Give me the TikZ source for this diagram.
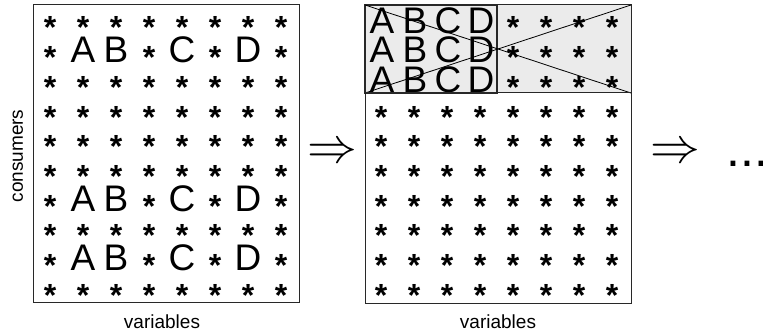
\documentclass[tikz,border=0pt]{standalone}
\usepackage{graphicx}
\usepackage{fontspec}
\setmainfont{Liberation Sans}
\definecolor{shadegray}{RGB}{235,235,235}
\definecolor{frame}{RGB}{40,40,40}
\begin{document}
\begin{tikzpicture}[x=1pt,y=-1pt,
  astnode/.style={font=\fontsize{32}{32}\selectfont\bfseries, anchor=base, inner sep=0pt},
  letnode/.style={font=\fontsize{37}{37}\selectfont, anchor=base, inner sep=0pt},
  lblnode/.style={font=\fontsize{19}{19}\selectfont, anchor=base, inner sep=0pt},
  bignode/.style={font=\fontsize{24}{24}\selectfont, inner sep=0pt},
  boxline/.style={draw=frame, line width=1pt},
  crossline/.style={draw=black, line width=0.8pt}]
\useasboundingbox (0,0) rectangle (763,331);
% ---------- first matrix ----------
\node[boxline, minimum width=266pt, minimum height=297pt, inner sep=0pt] (m1) at (166,153.5) {};
\foreach \r in {0,2,3,4,5,7,9}{
  \foreach \c in {0,...,7}{
    \node[astnode] (a-\r-\c) at ({50+33*\c},{20+29.7*\r+19}) {*};
  }
}
\foreach \r in {1,6,8}{
  \foreach \c in {0,3,5,7}{
    \node[astnode] (a-\r-\c) at ({50+33*\c},{20+29.7*\r+19}) {*};
  }
  \node[letnode] (a-\r-1) at (83,{20+29.7*\r+13.3}) {A};
  \node[letnode] (a-\r-2) at (116,{20+29.7*\r+13.3}) {B};
  \node[letnode] (a-\r-4) at (182,{20+29.7*\r+13.3}) {C};
  \node[letnode] (a-\r-6) at (248,{20+29.7*\r+13.3}) {D};
}
\node[lblnode] (v1) at (162,328) {variables};
\node[lblnode, rotate=90] (cons) at (23,156) {consumers};
% ---------- arrow ----------
\node[bignode] (arr1) at (332,153.5) {\scalebox{2}{$\Rightarrow$}};
% ---------- second matrix ----------
\fill[shadegray] (365,5) rectangle (631,93);
\node[boxline, minimum width=266pt, minimum height=298pt, inner sep=0pt] (m2) at (498,154) {};
\coordinate (g-tl) at (365,5);
\coordinate (g-tr) at (631,5);
\coordinate (g-bl) at (365,93);
\coordinate (g-br) at (631,93);
\foreach \r in {0,1,2}{
  \node[letnode] (b-\r-0) at (382,{20+29.7*\r+13.3}) {A};
  \node[letnode] (b-\r-1) at (415,{20+29.7*\r+13.3}) {B};
  \node[letnode] (b-\r-2) at (448,{20+29.7*\r+13.3}) {C};
  \node[letnode] (b-\r-3) at (481,{20+29.7*\r+13.3}) {D};
  \foreach \c in {4,...,7}{
    \node[astnode] (b-\r-\c) at ({382+33*\c-1},{20+29.7*\r+19}) {*};
  }
}
\foreach \r in {3,...,9}{
  \foreach \c in {0,...,7}{
    \node[astnode] (b-\r-\c) at ({382+33*\c-1},{20+29.7*\r+19}) {*};
  }
}
\draw[frame, line width=2pt] (365,5) rectangle (497,93);
\draw[crossline] (g-tl) -- (g-br);
\draw[crossline] (g-bl) -- (g-tr);
\draw[boxline] (365,93) -- (631,93);
\node[lblnode] (v2) at (498,328) {variables};
% ---------- second arrow and dots ----------
\node[bignode] (arr2) at (675,153.5) {\scalebox{2}{$\Rightarrow$}};
\node[font=\fontsize{50}{50}\selectfont, anchor=base west, inner sep=0pt] (dots) at (726,167) {...};
\end{tikzpicture}
\end{document}
